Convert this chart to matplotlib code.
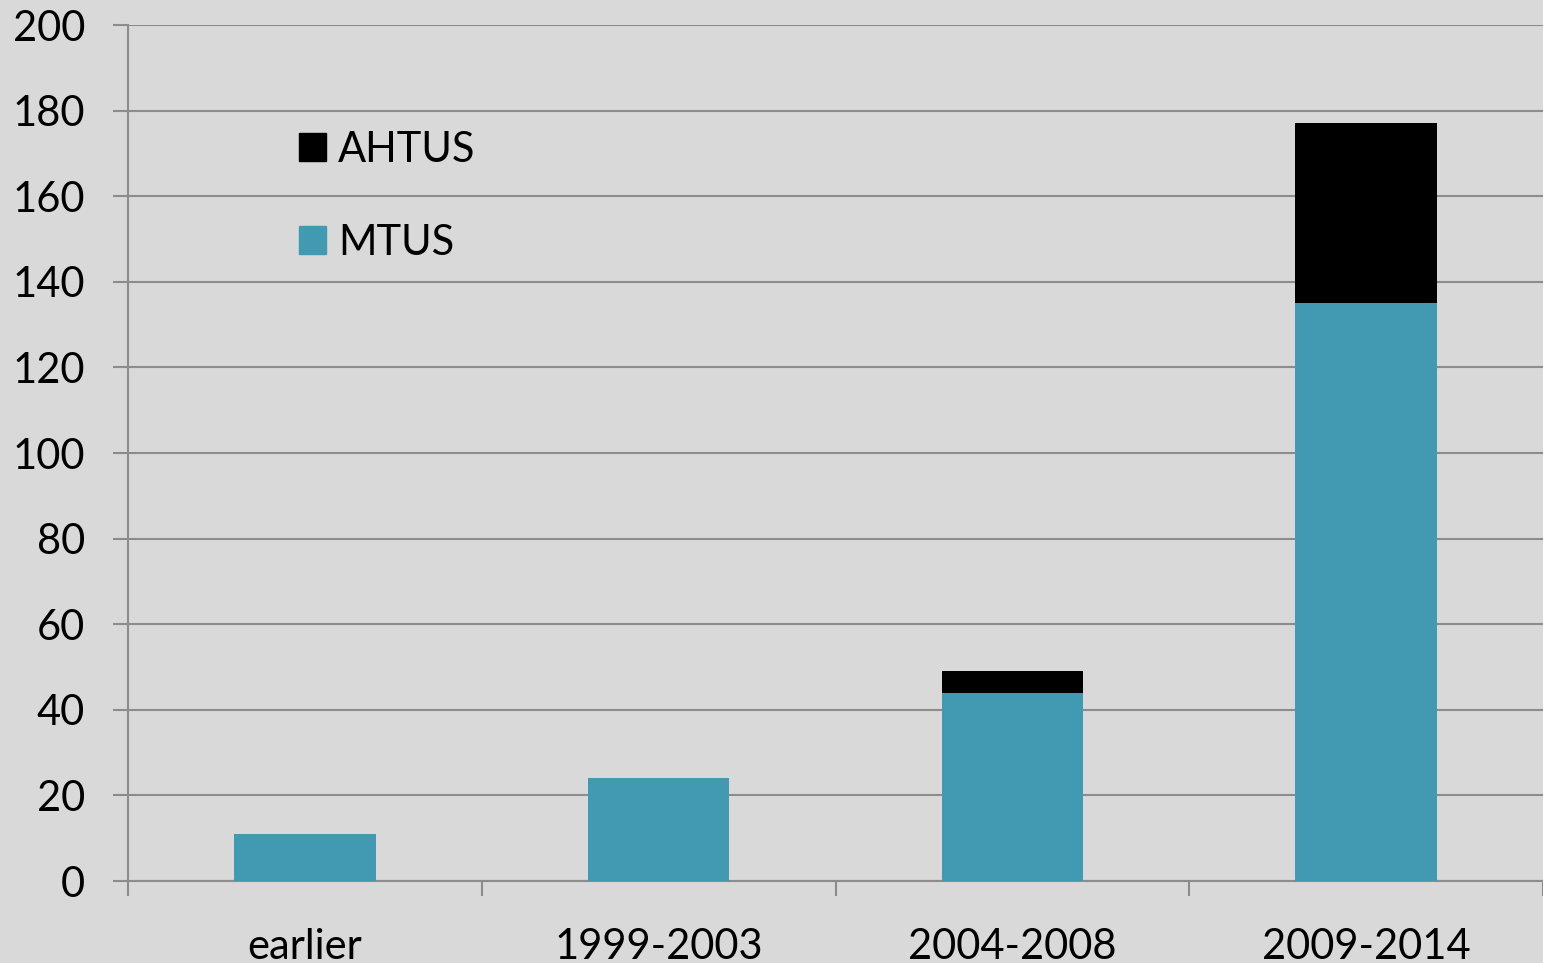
import numpy as np
import matplotlib.pyplot as plt
from matplotlib.patches import Patch

# data
categories = ["earlier", "1999-2003", "2004-2008", "2009-2014"]
mtus = [11, 24, 44, 135]
ahtus = [0, 0, 5, 42]

bg = "#D9D9D9"
teal = "#4299B2"
grid_col = "#8C8C8C"

plt.rcParams['font.family'] = ['Lato', 'DejaVu Sans']

fig = plt.figure(figsize=(15.43, 9.63), dpi=100, facecolor=bg)
ax = fig.add_axes([128/1543, 1 - 881/963, 1 - 128/1543, (881 - 25)/963])
ax.set_facecolor(bg)

x = np.arange(len(categories))
ax.bar(x, mtus, width=0.4, color=teal, zorder=3)
ax.bar(x, ahtus, width=0.4, bottom=mtus, color="black", zorder=3)

ax.set_xlim(-0.5, len(categories) - 0.5)
ax.set_ylim(0, 200)
ax.set_yticks(np.arange(0, 201, 20))
ax.yaxis.grid(True, color=grid_col, linewidth=1.5, zorder=0)
ax.set_axisbelow(True)

for s in ["top", "right"]:
    ax.spines[s].set_visible(False)
for s in ["left", "bottom"]:
    ax.spines[s].set_color(grid_col)
    ax.spines[s].set_linewidth(1.5)

ax.tick_params(axis="y", length=11, width=1.5, color=grid_col, labelsize=30, pad=20)
ax.set_xticks(x)
ax.set_xticklabels(categories)
ax.set_xticks(np.arange(-0.5, len(categories), 1.0), minor=True)
ax.tick_params(axis="x", which="major", length=0, labelsize=30, pad=34)
ax.tick_params(axis="x", which="minor", length=11, width=1.5, color=grid_col)

handles = [Patch(color="black", label="AHTUS"), Patch(color=teal, label="MTUS")]
ax.legend(handles=handles, loc="center left", bbox_to_anchor=(0.094, 0.80),
          frameon=False, fontsize=30, handlelength=0.65, handleheight=0.65,
          handletextpad=0.3, labelspacing=1.32)

fig.savefig("out.png", dpi=100, facecolor=bg)
